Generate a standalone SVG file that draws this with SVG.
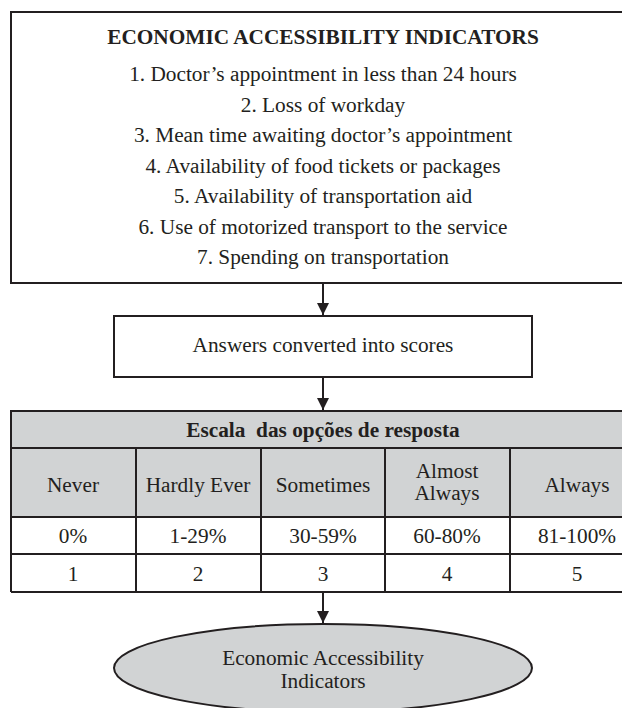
<svg xmlns="http://www.w3.org/2000/svg" width="622" height="708" viewBox="0 0 622 708">
<defs>
<marker id="arr" markerWidth="12" markerHeight="12" viewBox="0 0 12 12" refX="12" refY="6" orient="auto" markerUnits="userSpaceOnUse">
<path d="M0,0 L12,6 L0,12 Z" fill="#231f20"/>
</marker>
<style>
text{font-family:'Liberation Serif','Times New Roman','DejaVu Serif',serif;fill:#231f20;text-anchor:middle;font-size:21.3px}
.b{font-weight:bold}
.box{fill:#fff;stroke:#231f20;stroke-width:2}
.gray{fill:#d1d3d4;stroke:#231f20;stroke-width:2}
.cell{fill:none;stroke:#231f20;stroke-width:2}
.conn{stroke:#231f20;stroke-width:2;fill:none}
</style>
</defs>
<rect width="622" height="708" fill="#fff"/>
<g id="indicators">
<rect class="box" x="11" y="12" width="640" height="271"/>
<text class="b" x="323" y="44">ECONOMIC ACCESSIBILITY INDICATORS</text>
<text x="323" y="81">1. Doctor’s appointment in less than 24 hours</text>
<text x="323" y="112">2. Loss of workday</text>
<text x="323" y="142">3. Mean time awaiting doctor’s appointment</text>
<text x="323" y="173">4. Availability of food tickets or packages</text>
<text x="323" y="203">5. Availability of transportation aid</text>
<text x="323" y="234">6. Use of motorized transport to the service</text>
<text x="323" y="264">7. Spending on transportation</text>
</g>
<g id="scores">
<rect class="box" x="114" y="316" width="418" height="61"/>
<text x="323" y="352">Answers converted into scores</text>
</g>
<g id="scale">
<rect class="gray" x="11" y="411" width="640" height="106"/>
<rect fill="#fff" x="11" y="517" width="640" height="75"/>
<path class="cell" d="M11,411 H651 M11,448 H651 M11,517 H651 M11,554 H651 M11,592 H651 M11,411 V592 M136,448 V592 M261,448 V592 M385,448 V592 M510,448 V592"/>
<text class="b" x="323" y="437" xml:space="preserve">Escala  das opções de resposta</text>
<text x="73" y="492">Never</text>
<text x="198" y="492">Hardly Ever</text>
<text x="323" y="492">Sometimes</text>
<text x="447" y="478">Almost</text>
<text x="447" y="500">Always</text>
<text x="577" y="492">Always</text>
<text x="73" y="543">0%</text>
<text x="198" y="543">1-29%</text>
<text x="323" y="543">30-59%</text>
<text x="447" y="543">60-80%</text>
<text x="577" y="543">81-100%</text>
<text x="73" y="581">1</text>
<text x="198" y="581">2</text>
<text x="323" y="581">3</text>
<text x="447" y="581">4</text>
<text x="577" y="581">5</text>
</g>
<g id="result">
<ellipse class="gray" cx="323" cy="668" rx="209" ry="44"/>
<text x="323" y="665">Economic Accessibility</text>
<text x="323" y="688">Indicators</text>
</g>
<g id="connectors">
<line class="conn" x1="323" y1="283" x2="323" y2="315" marker-end="url(#arr)"/>
<line class="conn" x1="323" y1="377" x2="323" y2="410" marker-end="url(#arr)"/>
<line class="conn" x1="323" y1="592" x2="323" y2="623" marker-end="url(#arr)"/>
</g>
</svg>
